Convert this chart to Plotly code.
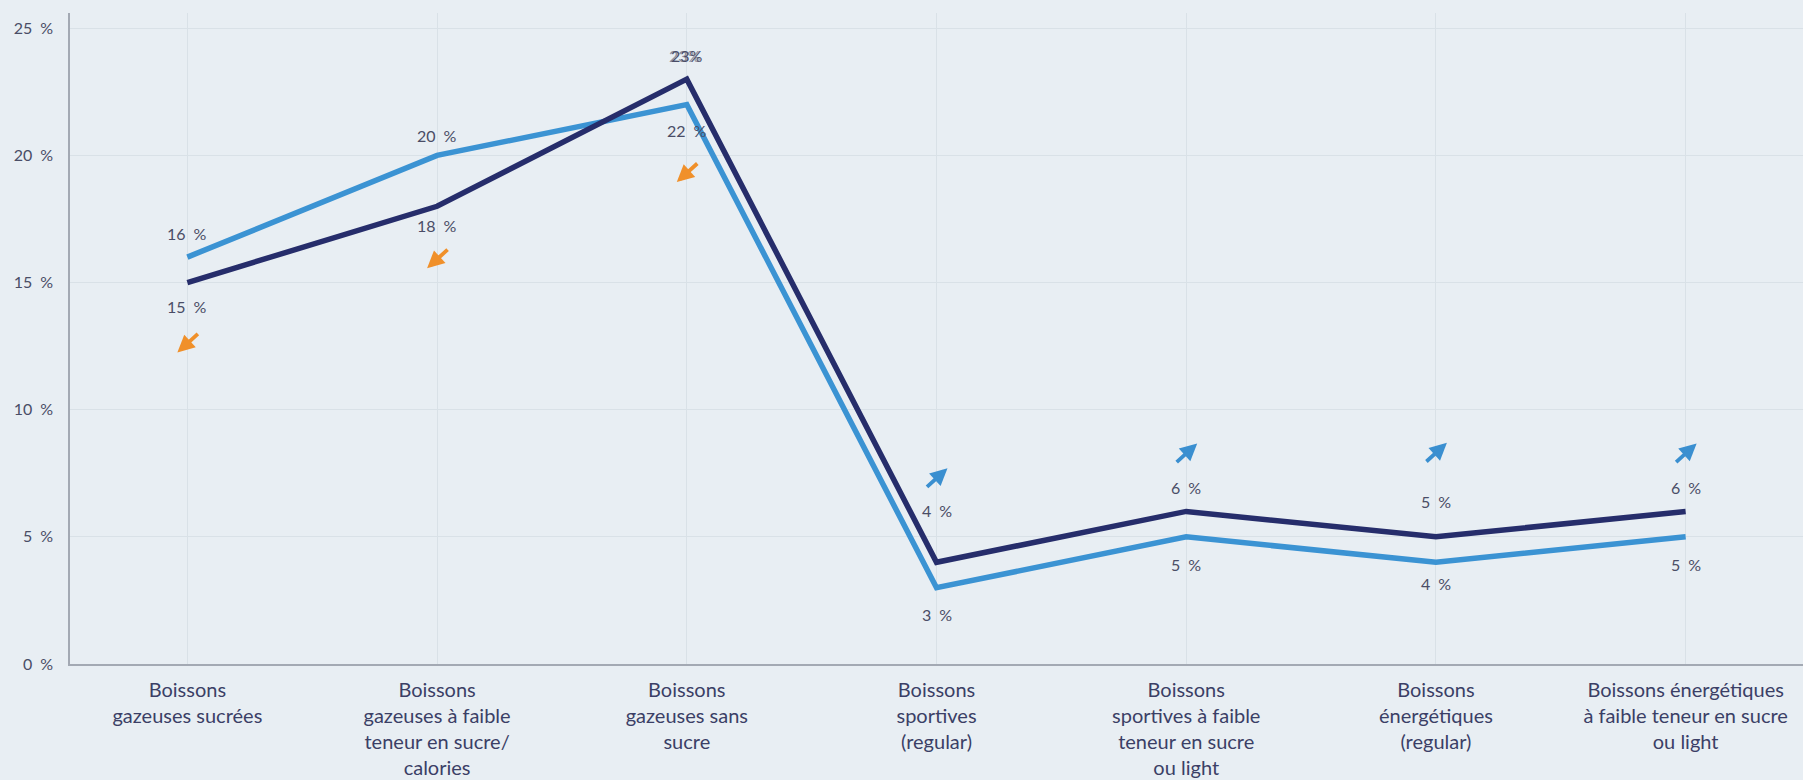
import plotly.graph_objects as go

# Categories and the two series (share of consumption, %)
categories = [
    "Boissons<br>gazeuses sucrées",
    "Boissons<br>gazeuses à faible<br>teneur en sucre/<br>calories",
    "Boissons<br>gazeuses sans<br>sucre",
    "Boissons<br>sportives<br>(regular)",
    "Boissons<br>sportives à faible<br>teneur en sucre<br>ou light",
    "Boissons<br>énergétiques<br>(regular)",
    "Boissons énergétiques<br>à faible teneur en sucre<br>ou light",
]
earlier_share = [16, 20, 22, 3, 5, 4, 5]
later_share = [15, 18, 23, 4, 6, 5, 6]
trend = ["down", "down", "down", "up", "up", "up", "up"]
y_ticks = [0, 5, 10, 15, 20, 25]

# Styling
BG = "#e8eef3"
DARK = "#262d6b"
LIGHT = "#3b93d3"
ORANGE = "#f0902a"
ARROW_BLUE = "#3a8fd0"
TEXT = "#4a4d66"
CAT_TEXT = "#3b3f66"
FONT = "Lato, 'Open Sans', sans-serif"
GAP = "\u2002"  # wide gap between number and percent sign

# Pixel offsets of the value labels / trend arrows (layout only)
later_label_shift = [-24, -19, 24, 52, 24, 35, 24]
earlier_label_shift = [24, 20, -26, -27, -28, -21, -28]
arrow_tip_shift = [-70, -62, -103, 94, 68, 94, 68]

x = list(range(len(categories)))

fig = go.Figure()
fig.add_trace(go.Scatter(x=x, y=earlier_share, mode="lines", name="Période 1",
                         line=dict(color=LIGHT, width=5.5)))
fig.add_trace(go.Scatter(x=x, y=later_share, mode="lines", name="Période 2",
                         line=dict(color=DARK, width=5.5)))

annotations = []
for i in x:
    lab_later = f"{later_share[i]}%" if i == 2 else f"{later_share[i]}{GAP}%"
    if i == 2:
        # doubled peak label
        annotations.append(dict(x=i, y=later_share[i], text=lab_later, showarrow=False,
                                yshift=later_label_shift[i], xshift=-2, yanchor="middle",
                                font=dict(family=FONT, size=16, color="#8a8da0")))
    annotations.append(dict(x=i, y=later_share[i], text=lab_later, showarrow=False,
                            yshift=later_label_shift[i], yanchor="middle",
                            font=dict(family=FONT, size=16, color=TEXT)))
    annotations.append(dict(x=i, y=earlier_share[i], text=f"{earlier_share[i]}{GAP}%", showarrow=False,
                            yshift=earlier_label_shift[i], yanchor="middle",
                            font=dict(family=FONT, size=16, color=TEXT)))
    if trend[i] == "down":
        annotations.append(dict(x=i, y=later_share[i], text="", showarrow=True,
                                ax=22, ay=-20, xshift=-10, yshift=arrow_tip_shift[i],
                                arrowhead=2, arrowsize=0.9, arrowwidth=3.8,
                                arrowcolor=ORANGE, standoff=0))
    else:
        annotations.append(dict(x=i, y=later_share[i], text="", showarrow=True,
                                ax=-22, ay=20, xshift=11, yshift=arrow_tip_shift[i],
                                arrowhead=2, arrowsize=0.9, arrowwidth=3.8,
                                arrowcolor=ARROW_BLUE, standoff=0))

fig.update_layout(
    width=1803, height=780,
    margin=dict(l=70, r=0, t=13, b=116),
    paper_bgcolor=BG, plot_bgcolor=BG,
    showlegend=False,
    annotations=annotations,
    xaxis=dict(
        range=[-0.47, 6.47], tickvals=x, ticktext=categories,
        showgrid=True, gridcolor="#d9e1e7", gridwidth=1,
        showline=True, linecolor="#a3a9b3", linewidth=1.5,
        ticks="outside", ticklen=7, tickcolor="rgba(0,0,0,0)",
        tickfont=dict(family=FONT, size=20, color=CAT_TEXT),
        zeroline=False, fixedrange=True, automargin=False,
    ),
    yaxis=dict(
        range=[0, 25.6], tickvals=y_ticks, ticktext=[f"{v}{GAP}%" for v in y_ticks],
        showgrid=True, gridcolor="#d9e1e7", gridwidth=1,
        showline=True, linecolor="#a3a9b3", linewidth=1.5,
        ticks="outside", ticklen=12, tickcolor="rgba(0,0,0,0)",
        tickfont=dict(family=FONT, size=16, color=TEXT),
        zeroline=False, fixedrange=True, automargin=False,
    ),
)

fig.write_html("out.html")
